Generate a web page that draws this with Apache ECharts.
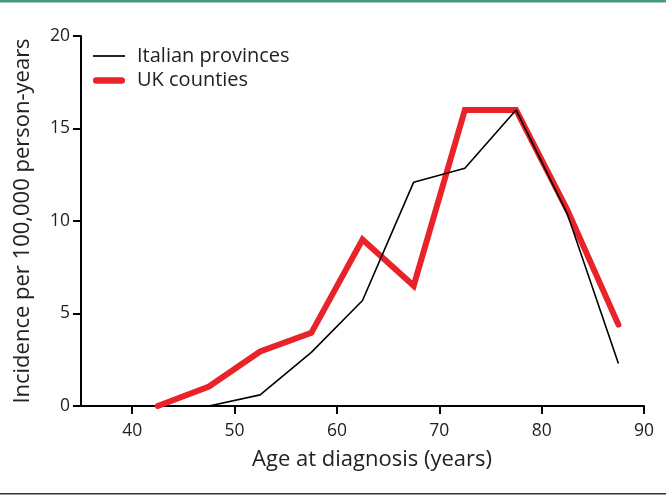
<!DOCTYPE html>
<html>
<head>
<meta charset="utf-8">
<script src="https://cdn.jsdelivr.net/npm/echarts@6/dist/echarts.min.js"></script>
<style>
  html, body { margin: 0; padding: 0; background: #fff; }
  #chart { width: 666px; height: 496px; }
</style>
</head>
<body>
<div id="chart"></div>
<script>
// age group midpoints (years)
const ages = [42.5, 47.5, 52.5, 57.5, 62.5, 67.5, 72.5, 77.5, 82.5, 87.5];
// incidence per 100,000 person-years
const italianProvinces = [null, 0, 0.6, 2.9, 5.7, 12.1, 12.85, 16.0, 10.4, 2.3];
const ukCounties = [0, 1.05, 2.95, 3.95, 9.0, 6.5, 16.0, 16.0, 10.6, 4.4];
// tick labels
const xTicks = [40, 50, 60, 70, 80, 90];
const yTicks = [0, 5, 10, 15, 20];

const fontFamily = '"Open Sans", "Noto Sans", sans-serif';

function pairs(values) {
    return ages.map((a, i) => [a, values[i]]);
}

document.addEventListener('DOMContentLoaded', function() {
    const chart = echarts.init(document.getElementById('chart'), null, { renderer: 'canvas' });

    const option = {
        backgroundColor: '#fff',
        animation: false,
        textStyle: { fontFamily: fontFamily },
        graphic: [
            // green rule at the top, dark rule at the bottom
            { type: 'rect', left: 0, top: 0, shape: { width: 666, height: 2.5 }, style: { fill: '#4a9b7b' } },
            { type: 'rect', left: 0, top: 493, shape: { width: 666, height: 1.6 }, style: { fill: '#333' } }
        ],
        grid: {
            left: 81,
            right: 22,
            top: 36,
            bottom: 90
        },
        legend: {
            orient: 'vertical',
            left: 88,
            top: 41,
            itemWidth: 32,
            itemHeight: 20,
            itemGap: 4.5,
            textStyle: {
                fontFamily: fontFamily,
                fontSize: 20,
                color: '#222',
                lineHeight: 20,
                padding: [0, 0, 0, 7]
            },
            data: [
                // plain line swatches: thin black, thick red with round ends
                { name: 'Italian provinces', icon: 'path://M0,0 L30,0 L30,1.6 L0,1.6 Z' },
                { name: 'UK counties', icon: 'path://M3,0 L27,0 A3,3 0 0 1 27,6 L3,6 A3,3 0 0 1 3,0 Z' }
            ]
        },
        xAxis: {
            type: 'value',
            min: 35,
            max: 90,
            name: 'Age at diagnosis (years)',
            nameLocation: 'middle',
            nameGap: 43,
            nameTextStyle: {
                fontFamily: fontFamily,
                fontSize: 22,
                color: '#222',
                padding: [0, 0, 0, 19]
            },
            axisLine: { lineStyle: { color: '#000', width: 2 } },
            axisTick: {
                customValues: xTicks,
                length: 8,
                lineStyle: { color: '#000', width: 2 }
            },
            axisLabel: {
                customValues: xTicks,
                margin: 16,
                fontFamily: fontFamily,
                fontSize: 17.5,
                color: '#222'
            },
            splitLine: { show: false }
        },
        yAxis: {
            type: 'value',
            min: 0,
            max: 20,
            interval: 5,
            name: 'Incidence per 100,000 person-years',
            nameLocation: 'middle',
            nameGap: 47,
            nameTextStyle: { fontFamily: fontFamily, fontSize: 22, color: '#222' },
            axisLine: { show: true, lineStyle: { color: '#000', width: 2 } },
            axisTick: {
                show: true,
                customValues: yTicks,
                length: 8,
                lineStyle: { color: '#000', width: 2 }
            },
            axisLabel: {
                customValues: yTicks,
                margin: 11,
                fontFamily: fontFamily,
                fontSize: 17.5,
                color: '#222'
            },
            splitLine: { show: false }
        },
        series: [
            {
                name: 'Italian provinces',
                type: 'line',
                z: 4,
                data: pairs(italianProvinces),
                symbol: 'none',
                color: '#000',
                lineStyle: { color: '#000', width: 1.6 }
            },
            {
                name: 'UK counties',
                type: 'line',
                z: 3,
                data: pairs(ukCounties),
                symbol: 'none',
                color: '#e8232a',
                lineStyle: { color: '#e8232a', width: 6, cap: 'round', join: 'miter' }
            }
        ]
    };

    chart.setOption(option);
});
</script>
</body>
</html>
